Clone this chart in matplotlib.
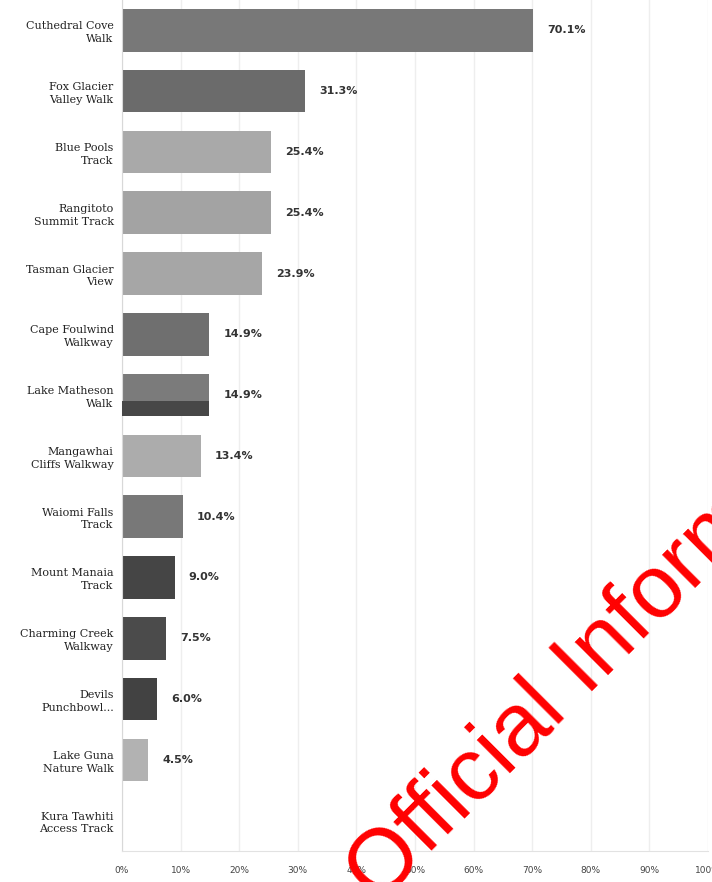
import matplotlib
matplotlib.use("Agg")
import matplotlib.pyplot as plt
import numpy as np

categories = [
    "Cuthedral Cove\nWalk",
    "Fox Glacier\nValley Walk",
    "Blue Pools\nTrack",
    "Rangitoto\nSummit Track",
    "Tasman Glacier\nView",
    "Cape Foulwind\nWalkway",
    "Lake Matheson\nWalk",
    "Mangawhai\nCliffs Walkway",
    "Waiomi Falls\nTrack",
    "Mount Manaia\nTrack",
    "Charming Creek\nWalkway",
    "Devils\nPunchbowl...",
    "Lake Guna\nNature Walk",
    "Kura Tawhiti\nAccess Track",
]
values = [70.1, 31.3, 25.4, 25.4, 23.9, 14.9, 14.9, 13.4, 10.4, 9.0, 7.5, 6.0, 4.5, 0.0]
bar_colors = ["#787878", "#6b6b6b", "#a9a9a9", "#a3a3a3", "#a6a6a6", "#6f6f6f",
              "#7b7b7b", "#acacac", "#787878", "#454545", "#4b4b4b", "#424242",
              "#b2b2b2", "#ffffff"]
xticks = [0, 10, 20, 30, 40, 50, 60, 70, 80, 90, 100]
xtick_labels = ["0%", "10%", "20%", "30%", "40%", "50%", "60%", "70%", "80%", "90%", "100%"]

fig = plt.figure(figsize=(7.12, 8.82), dpi=100)
ax = fig.add_axes([122/712, 1 - 851/882, (708 - 122)/712, 851/882])

y = np.arange(len(categories))
ax.barh(y, values, height=0.7, color=bar_colors, edgecolor="none", zorder=2)
# darker lower band seen on the Lake Matheson bar
i_lm = 6
ax.barh(y[i_lm] + 0.225, values[i_lm], height=0.25, color="#474747", edgecolor="none", zorder=3)

for yi, v in zip(y, values):
    if v > 0:
        ax.text(v + 2.4, yi, f"{v:.1f}%", va="center", ha="left",
                fontsize=8, fontweight="bold", color="#333333",
                family="DejaVu Sans", zorder=4)

ax.set_xlim(0, 100)
ax.set_ylim(len(categories) - 0.5, -0.5)
ax.set_yticks(y)
ax.set_yticklabels(categories, fontsize=8, family="DejaVu Serif", color="#222222",
                   linespacing=1.35)
ax.set_xticks(xticks)
ax.set_xticklabels(xtick_labels, fontsize=6.5, family="DejaVu Sans", color="#444444")
ax.tick_params(axis="both", length=0)
ax.tick_params(axis="x", pad=11)
ax.tick_params(axis="y", pad=6)

ax.grid(axis="x", color="#eeeeee", linewidth=1.0, zorder=0)
ax.set_axisbelow(True)
for s in ["top", "right"]:
    ax.spines[s].set_visible(False)
ax.spines["left"].set_color("#d8d8d8")
ax.spines["bottom"].set_color("#e2e2e2")

# watermark
fig.text(378/712, 1 - 905/882, "Official Information", rotation=45,
         rotation_mode="anchor", ha="left", va="baseline", fontsize=64,
         color="#ff0000", family="Liberation Sans", zorder=10)

fig.savefig("out.png", dpi=100)
